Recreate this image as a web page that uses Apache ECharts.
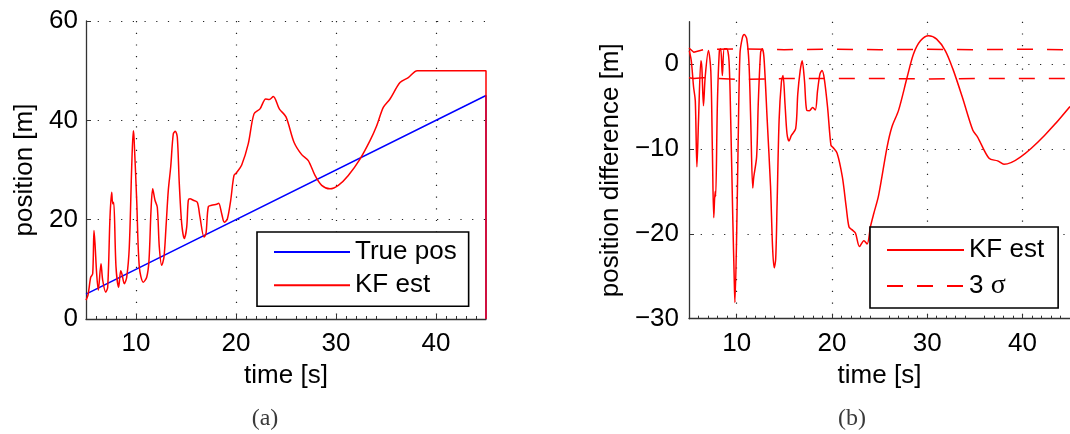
<!DOCTYPE html>
<html>
<head>
<meta charset="utf-8">
<script src="https://cdn.jsdelivr.net/npm/echarts@6/dist/echarts.min.js"></script>
<style>
  html, body { margin: 0; padding: 0; background: #fff; }
  #chart { width: 1070px; height: 434px; }
</style>
</head>
<body>
<div id="chart"></div>
<script>
// (a) position vs time
const truePosT = [5, 45, 45];
const truePos = [5, 45, 0];

const estT = [5.0, 5.2, 5.47, 5.67, 5.8, 5.9, 6.07, 6.23, 6.5, 6.67, 6.97, 7.17, 7.4, 7.57, 7.67, 7.77,
  8.0, 8.27, 8.47, 8.6, 8.83, 9.07, 9.33, 9.57, 9.73, 9.8, 10.07, 10.33, 10.73, 11.07, 11.3, 11.5,
  11.67, 11.9, 12.13, 12.33, 12.57, 12.8, 13.0, 13.23, 13.47, 13.73, 13.93, 14.13, 14.33, 14.57,
  14.83, 15.07, 15.23, 15.4, 15.73, 16.13, 16.4, 16.8, 17.0, 17.23, 17.57, 18.07, 18.27, 18.57,
  18.83, 19.13, 19.47, 19.8, 20.07, 20.57, 21.23, 21.8, 22.4, 22.97, 23.33, 23.73, 24.33, 25.0,
  25.8, 26.57, 27.23, 27.9, 28.57, 29.4, 30.23, 31.23, 32.4, 33.4, 34.07, 34.73, 35.4, 36.4,
  37.23, 38.13, 45, 45];
const est = [3.8, 4.8, 8.4, 9.1, 17.8, 15.2, 9.0, 5.8, 11.1, 7.8, 5.4, 6.4, 20.5, 25.5, 23.2, 23.5,
  10.5, 6.4, 9.7, 9.0, 7.1, 8.4, 14.5, 30.6, 37.9, 36.6, 23.9, 10.5, 7.4, 8.4, 11.8, 21.8,
  26.2, 23.9, 22.5, 14.5, 10.8, 12.5, 18.5, 25.9, 30.6, 37.3, 37.8, 36.6, 27.2, 19.2,
  16.2, 18.5, 23.9, 24.2, 23.9, 23.5, 20.5, 16.5, 17.2, 22.6, 22.9, 23.1, 23.3, 21.2,
  19.5, 20.1, 23.9, 28.9, 29.5, 31.0, 35.3, 41.3, 42.3, 44.3, 44.2, 44.8, 42.3, 40.7,
  35.6, 33.1, 31.9, 28.9, 26.9, 26.2, 26.9, 28.9, 32.2, 35.9, 38.9, 42.6, 44.3, 47.6,
  48.6, 50.0, 50.0, 0];

// (b) position difference vs time
const diffT = [5.03, 5.24, 5.48, 5.66, 5.83, 6.0, 6.25, 6.35, 6.52, 6.7, 7.04, 7.29, 7.46, 7.6, 7.74, 7.8,
  7.98, 8.19, 8.33, 8.5, 8.7, 8.96, 9.2, 9.38, 9.6, 9.75, 9.82, 10.0, 10.17, 10.35, 10.6, 10.8,
  11.06, 11.3, 11.48, 11.69, 11.8, 12.1, 12.27, 12.52, 12.69, 12.87, 13.21, 13.56, 13.77, 13.94,
  14.1, 14.25, 14.46, 14.7, 14.87, 15.08, 15.29, 15.5, 15.75, 16.2, 16.42, 16.67, 16.88, 17.12,
  17.36, 17.64, 17.98, 18.26, 18.5, 18.75, 18.96, 19.2, 19.55, 19.9, 20.1, 20.55, 21.1, 21.5,
  21.8, 22.1, 22.47, 22.9, 23.36, 23.7, 24.06, 24.4, 24.9, 25.8, 26.3, 27.0, 27.9, 28.57,
  29.3, 30.16, 31.0, 31.9, 32.7, 33.7, 34.8, 35.3, 36.5, 37.4, 38.07, 45];
const diff = [1.6, 0.4, -2.7, -4.3, -12.1, -6.6, 0.4, -0.4, -4.9, -1.5, 1.6, -0.8, -10.5, -18.1, -15.0, -15.6,
  -4.7, 1.6, 1.8, -1.35, 1.8, 1.8, 0.4, -6.6, -18.3, -25.4, -28.1, -20.3, -8.6, 1.2, 3.1, 3.5,
  3.0, 0, -6.6, -14.6, -13.3, -10.9, -4.7, 1.4, 1.8, 0.8, -6.6, -14.4, -21.5, -24.0,
  -23.0, -16.4, -6.6, -2.1, -1.35, -4.7, -8.2, -9.05, -8.4, -7.6, -3.5, -0.8, 0.4, -1.9,
  -5.45, -5.5, -5.1, -5.4, -3.1, -1.15, -0.76, -1.7, -5.1, -9.55, -9.8, -10.5, -13.3, -16.8,
  -19.2, -19.5, -19.9, -21.5, -20.8, -21.2, -19.1, -17.6, -15.5, -9.75, -7.4, -5.45, -1.55, 1.2,
  2.75, 3.35, 2.95, 1.6, -0.56, -3.9, -7.8, -8.6, -11.1, -11.4, -11.8, -5.0];

const sigmaT = [5, 5.5, 6.5, 10, 15, 20, 25, 30, 35, 40, 45];
const sigmaUp = [1.9, 1.4, 1.7, 1.8, 1.7, 1.75, 1.7, 1.75, 1.7, 1.75, 1.7];
const sigmaLow = [-1.6, -1.7, -1.6, -1.8, -1.7, -1.7, -1.7, -1.75, -1.7, -1.7, -1.7];

const timeTicks = [10, 20, 30, 40];
const posTicks = [0, 20, 40, 60];
const diffTicks = [-30, -20, -10, 0];

const zip = (xs, ys) => xs.map((x, i) => [x, ys[i]]);

const font = 'Liberation Sans';
const axisColor = '#333';
const gridLine = { show: true, lineStyle: { color: '#222', width: 1.2, type: [1.2, 10.5] } };

function timeAxis(gridIndex) {
  return {
    type: 'value', gridIndex, min: 5, max: 45, interval: 5,
    name: 'time [s]', nameLocation: 'middle', nameGap: 44,
    nameTextStyle: { fontFamily: font, fontSize: 26, color: '#000' },
    axisLine: { onZero: false, lineStyle: { color: axisColor, width: 1.3 } },
    axisTick: { inside: true, length: 5, customValues: timeTicks, lineStyle: { color: axisColor } },
    minorTick: { show: true, splitNumber: 5, length: 3, lineStyle: { color: axisColor } },
    axisLabel: { customValues: timeTicks, margin: 12, fontFamily: font, fontSize: 26, color: '#000' },
    splitLine: gridLine
  };
}

function valueAxis(gridIndex, min, max, ticks, name, nameGap, margin) {
  return {
    type: 'value', gridIndex, min, max, interval: 10,
    name, nameLocation: 'middle', nameGap,
    nameTextStyle: { fontFamily: font, fontSize: 26, color: '#000' },
    axisLine: { show: true, onZero: false, lineStyle: { color: axisColor, width: 1.3 } },
    axisTick: { show: true, inside: true, length: 5, customValues: ticks, lineStyle: { color: axisColor } },
    axisLabel: {
      customValues: ticks, margin, fontFamily: font, fontSize: 26, color: '#000',
      formatter: v => String(v).replace('-', '\u2212')
    },
    splitLine: gridLine
  };
}

const legendBase = {
  orient: 'vertical',
  itemWidth: 76, itemHeight: 26,
  backgroundColor: '#fff',
  borderColor: '#000', borderWidth: 1.6, borderRadius: 0,
  selectedMode: false,
  itemStyle: { opacity: 0 },
  textStyle: {
    fontFamily: font, fontSize: 26, lineHeight: 26, color: '#000',
    rich: { s: { fontFamily: 'Liberation Serif', fontSize: 28, color: '#000' } }
  },
  formatter: name => name === '3 σ' ? '3 {s|σ}' : name
};

const curve = { symbol: 'none', smooth: 0.3 };

const chart = echarts.init(document.getElementById('chart'), null, { renderer: 'canvas' });
chart.setOption({
  animation: false,
  backgroundColor: '#fff',
  grid: [
    { left: 86, top: 21, width: 400, height: 298 },
    { left: 689, top: 21.7, right: -3.5, height: 297 }
  ],
  xAxis: [timeAxis(0), timeAxis(1)],
  yAxis: [
    Object.assign(valueAxis(0, 0, 60, posTicks, 'position [m]', 48, 8), { interval: 20 }),
    valueAxis(1, -30, 5, diffTicks, 'position difference [m]', 65, 10)
  ],
  legend: [
    Object.assign({}, legendBase, { data: ['True pos', 'KF est'], left: 257, top: 232, itemGap: 7.3, padding: [7, 12, 8, 16] }),
    Object.assign({}, legendBase, { data: ['KF est', '3 σ'], left: 870, top: 227, itemGap: 9, itemWidth: 77, padding: [10, 14, 8, 16] })
  ],
  graphic: [
    { type: 'text', x: 265, y: 419, style: { text: '(a)', font: '24px "Liberation Serif"', fill: '#3a3a3a', align: 'center', verticalAlign: 'middle' } },
    { type: 'text', x: 852, y: 419, style: { text: '(b)', font: '24px "Liberation Serif"', fill: '#3a3a3a', align: 'center', verticalAlign: 'middle' } }
  ],
  series: [
    {
      name: 'True pos', type: 'line', xAxisIndex: 0, yAxisIndex: 0,
      data: zip(truePosT, truePos), symbol: 'none',
      lineStyle: { color: '#0000ff', width: 1.5 }, itemStyle: { color: '#0000ff' }
    },
    Object.assign({
      name: 'KF est', type: 'line', xAxisIndex: 0, yAxisIndex: 0,
      data: zip(estT, est),
      lineStyle: { color: '#ff0000', width: 1.5 }, itemStyle: { color: '#ff0000' }
    }, curve),
    Object.assign({
      name: 'KF est', type: 'line', xAxisIndex: 1, yAxisIndex: 1,
      data: zip(diffT, diff),
      lineStyle: { color: '#ff0000', width: 1.5 }, itemStyle: { color: '#ff0000' }
    }, curve),
    {
      name: '3 σ', type: 'line', xAxisIndex: 1, yAxisIndex: 1,
      data: zip(sigmaT, sigmaUp), symbol: 'none',
      lineStyle: { color: '#ff0000', width: 1.5, type: [16, 14] }, itemStyle: { color: '#ff0000' }
    },
    {
      name: '3 σ', type: 'line', xAxisIndex: 1, yAxisIndex: 1,
      data: zip(sigmaT, sigmaLow), symbol: 'none',
      lineStyle: { color: '#ff0000', width: 1.5, type: [16, 14] }, itemStyle: { color: '#ff0000' }
    }
  ]
});
</script>
</body>
</html>
